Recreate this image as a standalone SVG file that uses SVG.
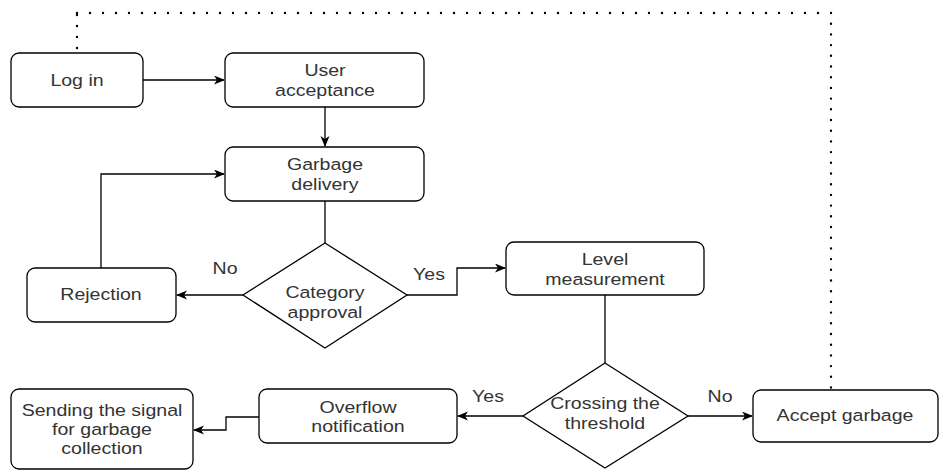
<svg xmlns="http://www.w3.org/2000/svg" width="941" height="470" viewBox="0 0 941 470">
<style>
.box{fill:#fff;stroke:#000;stroke-width:1.3}
.ln{fill:none;stroke:#000;stroke-width:1.3}
.dot{fill:none;stroke:#000;stroke-width:2.4;stroke-linecap:round}
.t{font-family:"Liberation Sans",Arial,sans-serif;font-size:17px;fill:#333;text-anchor:middle}
</style>
<defs>
<marker id="arr" markerUnits="userSpaceOnUse" markerWidth="12" markerHeight="10" refX="10" refY="4.5" orient="auto">
<path d="M0,0 L11,4.5 L0,9 L3,4.5 z" fill="#000"/>
</marker>
</defs>
<rect width="941" height="470" fill="#fff"/>
<g id="connectors">
<path class="ln" d="M143,80 H224" marker-end="url(#arr)"/>
<path class="ln" d="M325,107 V146" marker-end="url(#arr)"/>
<path class="ln" d="M325,201 V243"/>
<path class="ln" d="M243,295 H177" marker-end="url(#arr)"/>
<path class="ln" d="M101,268 V174 H224" marker-end="url(#arr)"/>
<path class="ln" d="M407,295 H457 V268 H505" marker-end="url(#arr)"/>
<path class="ln" d="M605,295 V363"/>
<path class="ln" d="M523,416 H458" marker-end="url(#arr)"/>
<path class="ln" d="M688,416 H752" marker-end="url(#arr)"/>
<path class="ln" d="M259,417 H226 V430 H194" marker-end="url(#arr)"/>
<path class="dot" d="M77,48 V13" stroke-dasharray="0 11"/>
<path class="dot" d="M77,13 H831" stroke-dasharray="0 13"/>
<path class="dot" d="M831,13 V388" stroke-dasharray="0 10.7"/>
<text class="t" transform="matrix(1.15 0 0 1 225 0)" y="274">No</text>
<text class="t" transform="matrix(1.15 0 0 1 429 0)" y="280">Yes</text>
<text class="t" transform="matrix(1.15 0 0 1 488 0)" y="402">Yes</text>
<text class="t" transform="matrix(1.15 0 0 1 720 0)" y="402">No</text>
</g>
<g id="login">
<rect class="box" x="11" y="53" width="132" height="54" rx="8"/>
<text class="t" transform="matrix(1.15 0 0 1 77 0)" y="86">Log in</text>
</g>
<g id="user-acceptance">
<rect class="box" x="225" y="53" width="199" height="54" rx="8"/>
<text class="t" transform="matrix(1.15 0 0 1 325 0)"><tspan x="0" y="76">User</tspan><tspan x="0" y="96">acceptance</tspan></text>
</g>
<g id="garbage-delivery">
<rect class="box" x="225" y="147" width="199" height="54" rx="8"/>
<text class="t" transform="matrix(1.15 0 0 1 325 0)"><tspan x="0" y="170">Garbage</tspan><tspan x="0" y="190">delivery</tspan></text>
</g>
<g id="category-approval">
<polygon class="box" points="325,243 407,295 325,348 243,295"/>
<text class="t" transform="matrix(1.15 0 0 1 325 0)"><tspan x="0" y="298">Category</tspan><tspan x="0" y="318">approval</tspan></text>
</g>
<g id="rejection">
<rect class="box" x="27" y="268" width="149" height="54" rx="8"/>
<text class="t" transform="matrix(1.15 0 0 1 101 0)" y="300">Rejection</text>
</g>
<g id="level-measurement">
<rect class="box" x="506" y="242" width="198" height="53" rx="8"/>
<text class="t" transform="matrix(1.15 0 0 1 605 0)"><tspan x="0" y="265">Level</tspan><tspan x="0" y="285">measurement</tspan></text>
</g>
<g id="crossing-threshold">
<polygon class="box" points="605,363 688,416 605,468 523,416"/>
<text class="t" transform="matrix(1.15 0 0 1 605 0)"><tspan x="0" y="409">Crossing the</tspan><tspan x="0" y="429">threshold</tspan></text>
</g>
<g id="accept-garbage">
<rect class="box" x="753" y="390" width="185" height="52" rx="8"/>
<text class="t" transform="matrix(1.15 0 0 1 845 0)" y="421">Accept garbage</text>
</g>
<g id="overflow-notification">
<rect class="box" x="259" y="389" width="198" height="54" rx="8"/>
<text class="t" transform="matrix(1.15 0 0 1 358 0)"><tspan x="0" y="413">Overflow</tspan><tspan x="0" y="432">notification</tspan></text>
</g>
<g id="sending-signal">
<rect class="box" x="11" y="389" width="182" height="80" rx="8"/>
<text class="t" transform="matrix(1.15 0 0 1 102 0)"><tspan x="0" y="416">Sending the signal</tspan><tspan x="0" y="435">for garbage</tspan><tspan x="0" y="454">collection</tspan></text>
</g>
</svg>
